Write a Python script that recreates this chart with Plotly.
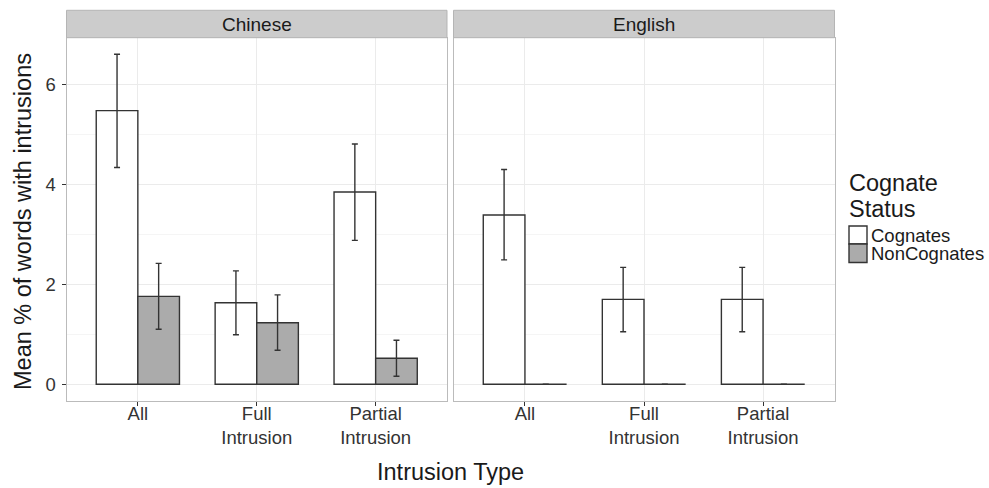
import plotly.graph_objects as go

# ---- data ----
categories = ["All", "Full<br>Intrusion", "Partial<br>Intrusion"]
facets = ["Chinese", "English"]
series = ["Cognates", "NonCognates"]

chinese_cog = [5.48, 1.63, 3.85]
chinese_cog_hi = [6.61, 2.27, 4.81]
chinese_cog_lo = [4.34, 0.99, 2.88]

chinese_non = [1.76, 1.23, 0.52]
chinese_non_hi = [2.42, 1.79, 0.88]
chinese_non_lo = [1.10, 0.68, 0.16]

english_cog = [3.39, 1.70, 1.70]
english_cog_hi = [4.30, 2.34, 2.34]
english_cog_lo = [2.49, 1.05, 1.05]

english_non = [0.0, 0.0, 0.0]
english_non_hi = [0.0, 0.0, 0.0]
english_non_lo = [0.0, 0.0, 0.0]

y_ticks = [0, 2, 4, 6]

# ---- layout helpers ----
W, H = 989, 488
def px(x):
    return x / W
def py(y):
    return 1 - y / H

fills = {"Cognates": "#FFFFFF", "NonCognates": "#ABABAB"}
outline = "#333333"
font_family = "Liberation Sans, Arial, sans-serif"
text_col = "#1A1A1A"

fig = go.Figure()

data = {
    ("Chinese", "Cognates"): (chinese_cog, chinese_cog_hi, chinese_cog_lo),
    ("Chinese", "NonCognates"): (chinese_non, chinese_non_hi, chinese_non_lo),
    ("English", "Cognates"): (english_cog, english_cog_hi, english_cog_lo),
    ("English", "NonCognates"): (english_non, english_non_hi, english_non_lo),
}

for fi, facet in enumerate(facets):
    xa = "x" if fi == 0 else "x2"
    ya = "y" if fi == 0 else "y2"
    for s in series:
        m, hi, lo = data[(facet, s)]
        fig.add_trace(go.Bar(
            x=categories, y=m, name=s, xaxis=xa, yaxis=ya,
            offsetgroup=s, showlegend=False,
            marker=dict(color=fills[s], line=dict(color=outline, width=1.4)),
            error_y=dict(type="data", symmetric=False,
                         array=[h - v for h, v in zip(hi, m)],
                         arrayminus=[v - l for v, l in zip(m, lo)],
                         color=outline, thickness=1.4, width=3),
        ))

panel_x = [(66.5, 447.0), (453.5, 834.5)]
y_dom = [py(400.7), py(37.7)]
yr = [-0.3305, 6.9405]

axis_common = dict(
    showline=True, linecolor="#BBBBBB", linewidth=1, mirror=True,
    gridcolor="#EBEBEB", gridwidth=1, zeroline=False,
    ticklen=4, tickcolor="#333333", tickwidth=1,
    tickfont=dict(family=font_family, size=18.5, color="#333333"),
    automargin=False,
)
minor_grid = dict(dtick=1, tick0=0, showgrid=True, gridcolor="#F5F5F5", ticks="")

fig.update_layout(
    width=W, height=H,
    margin=dict(l=0, r=0, t=0, b=0),
    paper_bgcolor="white", plot_bgcolor="white",
    barmode="group", bargap=0.3, bargroupgap=0,
    showlegend=False,
    xaxis=dict(domain=[px(panel_x[0][0]), px(panel_x[0][1])], anchor="y",
               range=[-0.6, 2.6], type="category", ticks="outside",
               ticklabelstandoff=-8, **axis_common),
    xaxis2=dict(domain=[px(panel_x[1][0]), px(panel_x[1][1])], anchor="y2",
                range=[-0.6, 2.6], type="category", ticks="outside",
                ticklabelstandoff=-8, **axis_common),
    yaxis=dict(domain=y_dom, anchor="x", range=yr, tickvals=y_ticks,
               ticks="outside", ticklabelstandoff=2, minor=minor_grid, **axis_common),
    yaxis2=dict(domain=y_dom, anchor="x2", range=yr, tickvals=y_ticks,
                matches="y", showticklabels=False, ticks="",
                minor=minor_grid, **axis_common),
)

shapes = []
annotations = []
# facet strips
for (x0, x1), facet in zip(panel_x, facets):
    shapes.append(dict(type="rect", xref="paper", yref="paper",
                       x0=px(x0), x1=px(x1), y0=py(37.7), y1=py(10.3),
                       fillcolor="#CCCCCC", line=dict(color="#B5B5B5", width=1), layer="above"))
    annotations.append(dict(xref="paper", yref="paper", x=px((x0 + x1) / 2), y=py(24),
                            text=facet, showarrow=False, xanchor="center", yanchor="middle",
                            font=dict(family=font_family, size=19, color=text_col)))

# axis titles
annotations.append(dict(xref="paper", yref="paper", x=px(450.5), y=py(472),
                        text="Intrusion Type", showarrow=False, xanchor="center", yanchor="middle",
                        font=dict(family=font_family, size=23.5, color=text_col)))
annotations.append(dict(xref="paper", yref="paper", x=px(23), y=py(222),
                        text="Mean % of words with intrusions", showarrow=False, textangle=-90,
                        xanchor="center", yanchor="middle",
                        font=dict(family=font_family, size=23.5, color=text_col)))

# legend
annotations.append(dict(xref="paper", yref="paper", x=px(847), y=py(183),
                        text="Cognate", showarrow=False, xanchor="left", yanchor="middle",
                        font=dict(family=font_family, size=23.5, color=text_col)))
annotations.append(dict(xref="paper", yref="paper", x=px(847), y=py(209),
                        text="Status", showarrow=False, xanchor="left", yanchor="middle",
                        font=dict(family=font_family, size=23.5, color=text_col)))
key_rows = [(226.0, 244.0), (244.0, 262.5)]
for (k0, k1), s in zip(key_rows, series):
    shapes.append(dict(type="rect", xref="paper", yref="paper",
                       x0=px(849), x1=px(867), y0=py(k1), y1=py(k0),
                       fillcolor=fills[s], line=dict(color=outline, width=1.4)))
    annotations.append(dict(xref="paper", yref="paper", x=px(868.5), y=py((k0 + k1) / 2),
                            text=s, showarrow=False, xanchor="left", yanchor="middle",
                            font=dict(family=font_family, size=18.5, color=text_col)))

fig.update_layout(shapes=shapes, annotations=annotations)
fig.write_html("out.html", config={"displayModeBar": False},
               post_script="document.body.style.margin='0';document.body.style.overflow='hidden';")
